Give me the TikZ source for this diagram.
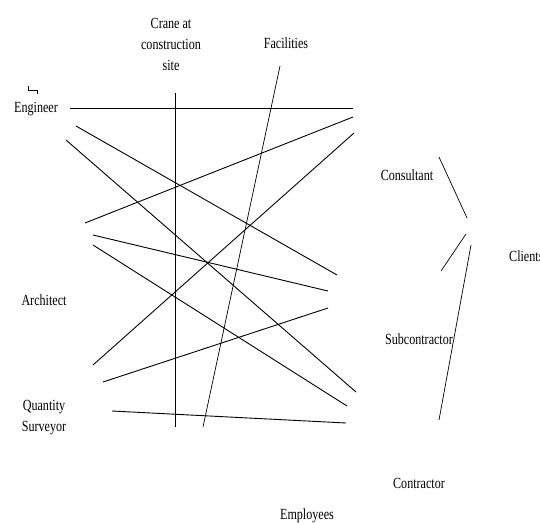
\documentclass[tikz,border=0pt]{standalone}
\usepackage{fontspec}
\setmainfont[FakeStretch=0.78]{Liberation Serif}
\begin{document}
\begin{tikzpicture}[x=1pt,y=-1pt,
  lbl/.style={font=\fontsize{15.5}{21}\selectfont, inner sep=0pt, anchor=base, align=center},
  ln/.style={line width=0.9pt, line cap=butt},
  thin/.style={line width=0.7pt}]
\useasboundingbox (0,0) rectangle (540,522);
% labels (multi-line labels: base = last line)
\node[lbl] (crane) at (171,70) {Crane at\\construction\\site};
\node[lbl] (fac) at (286,48) {Facilities};
\node[lbl] (eng) at (36,112) {Engineer};
\node[lbl] (cons) at (407,180) {Consultant};
\node[lbl, anchor=base west] (cli) at (509,261) {Clients};
\node[lbl] (arch) at (44,305) {Architect};
\node[lbl] (qs) at (44,431) {Quantity\\Surveyor};
\node[lbl] (sub) at (419,344) {Subcontractor};
\node[lbl] (con) at (419,488) {Contractor};
\node[lbl] (emp) at (307,519) {Employees};
% small mark
\draw[thin] (28.5,86) -- (28.5,90.5) -- (37,90.5) -- (37,94);
% endpoints
\coordinate (a1) at (70,108);  \coordinate (b1) at (353,108);
\coordinate (a2) at (76,126);  \coordinate (b2) at (337,275);
\coordinate (a3) at (66,140);  \coordinate (b3) at (356,392);
\coordinate (a4) at (85,223);  \coordinate (b4) at (353,117);
\coordinate (a5) at (93,235);  \coordinate (b5) at (328,291);
\coordinate (a6) at (93,245);  \coordinate (b6) at (347,406);
\coordinate (a7) at (93,365);  \coordinate (b7) at (354,133);
\coordinate (a8) at (103,382); \coordinate (b8) at (328,308);
\coordinate (a9) at (112,411); \coordinate (b9) at (346,423);
\coordinate (f1) at (280,66);  \coordinate (f2) at (203,427);
\coordinate (c1) at (175,93);  \coordinate (c2) at (175,427);
\coordinate (k1) at (439,157); \coordinate (k2) at (467,218);
\coordinate (k3) at (466,234); \coordinate (k4) at (441,271);
\coordinate (k5) at (471,245); \coordinate (k6) at (439,420);
% lines
\foreach \i in {1,...,9} {\draw[ln] (a\i) -- (b\i);}
\draw[thin] (f1) -- (f2);
\draw[ln] (c1) -- (c2);
\draw[thin] (k1) -- (k2);
\draw[thin] (k3) -- (k4);
\draw[thin] (k5) -- (k6);
\end{tikzpicture}
\end{document}
